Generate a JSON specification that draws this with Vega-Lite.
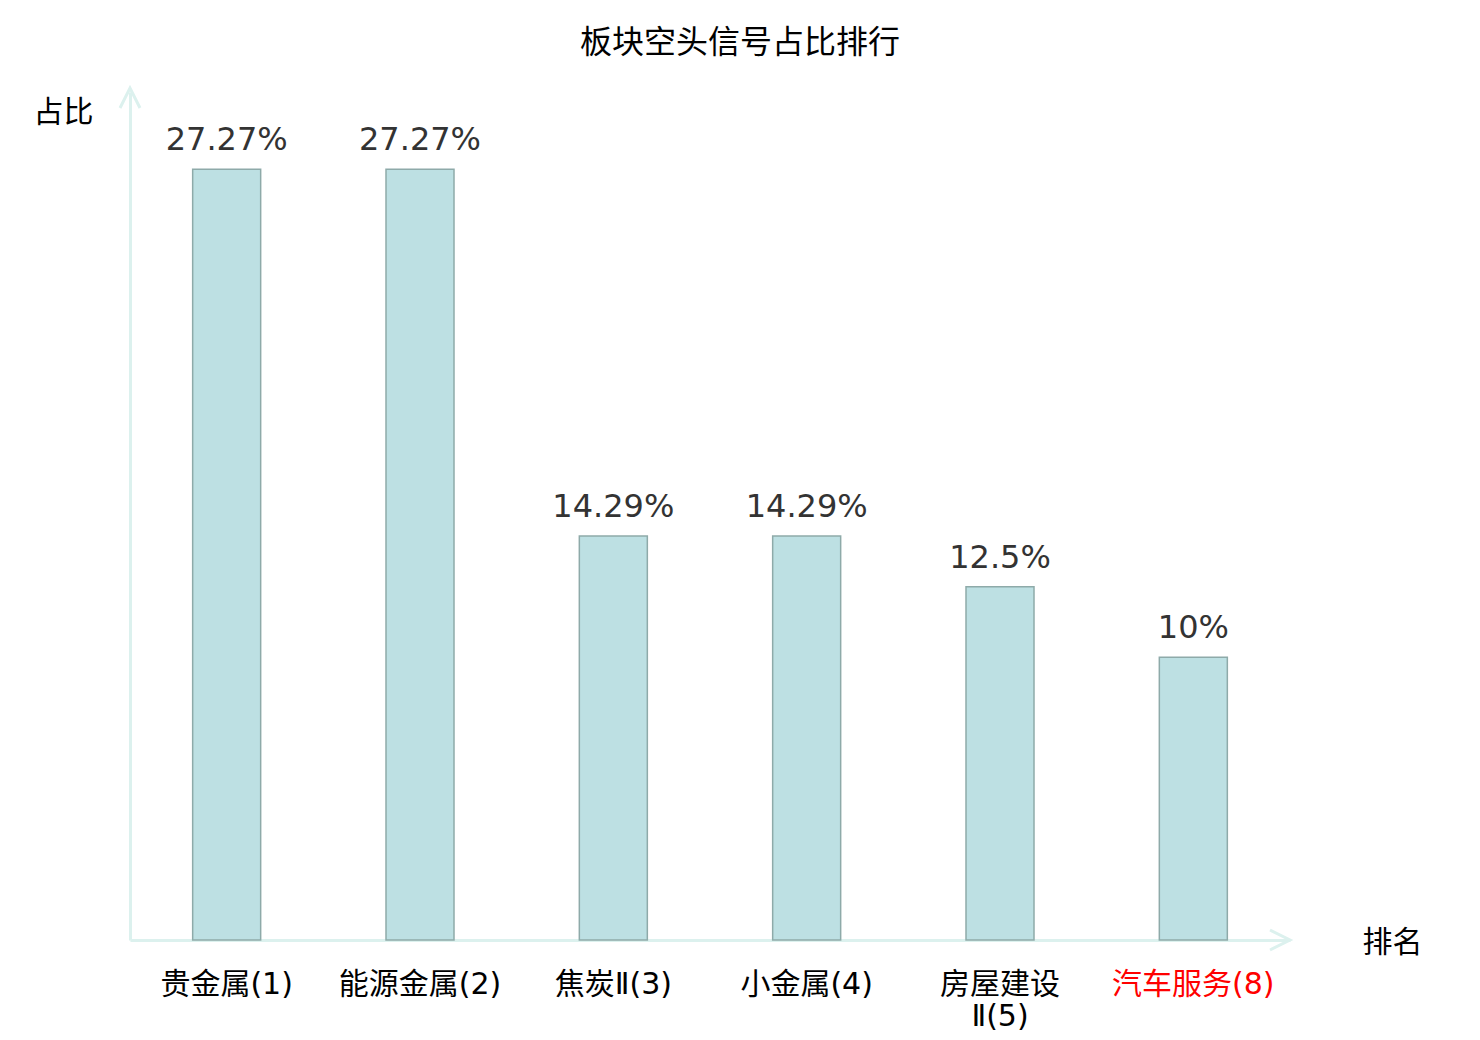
{
  "$schema": "https://vega.github.io/schema/vega-lite/v6.json",
  "background": "white",
  "autosize": "none",
  "width": 1160,
  "height": 848,
  "padding": {"left": 130, "top": 92, "right": 190, "bottom": 100},
  "title": {
    "text": "板块空头信号占比排行",
    "font": "Noto Sans CJK SC",
    "fontSize": 32,
    "fontWeight": "normal",
    "color": "#000000",
    "anchor": "middle",
    "baseline": "alphabetic",
    "dx": 30,
    "offset": -3
  },
  "data": {
    "values": [
      {"sector": "贵金属(1)", "ratio": 0.2727},
      {"sector": "能源金属(2)", "ratio": 0.2727},
      {"sector": "焦炭Ⅱ(3)", "ratio": 0.1429},
      {"sector": "小金属(4)", "ratio": 0.1429},
      {"sector": "房屋建设Ⅱ(5)", "ratio": 0.125},
      {"sector": "汽车服务(8)", "ratio": 0.1}
    ]
  },
  "encoding": {
    "x": {
      "field": "sector",
      "type": "nominal",
      "sort": null,
      "scale": {"paddingInner": 0, "paddingOuter": 0},
      "axis": {
        "title": "排名",
        "titleFont": "Noto Sans CJK SC",
        "titleFontSize": 30,
        "titleFontWeight": "normal",
        "titleColor": "#000000",
        "titleAlign": "left",
        "titleBaseline": "middle",
        "titleX": 1232,
        "titleY": 2,
        "domainColor": "#dcf1ee",
        "domainWidth": 3,
        "ticks": false,
        "tickSize": 0,
        "labelAngle": 0,
        "labelFont": "DejaVu Sans, Noto Sans CJK SC",
        "labelFontSize": 30,
        "labelPadding": 29,
        "labelLineHeight": 32,
        "labelColor": {
          "condition": {"test": "datum.value === '汽车服务(8)'", "value": "#ff0000"},
          "value": "#000000"
        },
        "labelExpr": "datum.value === '房屋建设Ⅱ(5)' ? ['房屋建设', 'Ⅱ(5)'] : datum.label"
      }
    },
    "y": {
      "field": "ratio",
      "type": "quantitative",
      "scale": {"domain": [0, 0.3], "nice": false},
      "axis": {
        "title": "占比",
        "titleFont": "Noto Sans CJK SC",
        "titleFontSize": 30,
        "titleFontWeight": "normal",
        "titleColor": "#000000",
        "titleAngle": 0,
        "titleAlign": "left",
        "titleBaseline": "middle",
        "titleX": -97,
        "titleY": 20,
        "domainColor": "#dcf1ee",
        "domainWidth": 3,
        "ticks": false,
        "labels": false,
        "grid": false
      }
    }
  },
  "layer": [
    {
      "mark": {
        "type": "bar",
        "width": 68,
        "fill": "#bde0e3",
        "stroke": "#8eaaa9",
        "strokeWidth": 1.5
      }
    },
    {
      "mark": {
        "type": "text",
        "font": "DejaVu Sans",
        "fontSize": 32,
        "color": "#333333",
        "baseline": "alphabetic",
        "align": "center",
        "dy": -19
      },
      "encoding": {
        "text": {"field": "ratio", "type": "quantitative", "format": ".4~%"}
      }
    },
    {
      "data": {"values": [{"axis": "y"}]},
      "mark": {
        "type": "point",
        "shape": "M-1,2L0,0L1,2",
        "size": 400,
        "filled": false,
        "stroke": "#dcf1ee",
        "strokeWidth": 3,
        "opacity": 1
      },
      "encoding": {
        "x": {"value": 0},
        "y": {"value": -4}
      }
    },
    {
      "data": {"values": [{"axis": "x"}]},
      "mark": {
        "type": "point",
        "shape": "M-2,-1L0,0L-2,1",
        "size": 400,
        "filled": false,
        "stroke": "#dcf1ee",
        "strokeWidth": 3,
        "opacity": 1
      },
      "encoding": {
        "x": {"value": "width"},
        "y": {"value": "height"}
      }
    }
  ],
  "config": {
    "view": {"stroke": null}
  }
}
